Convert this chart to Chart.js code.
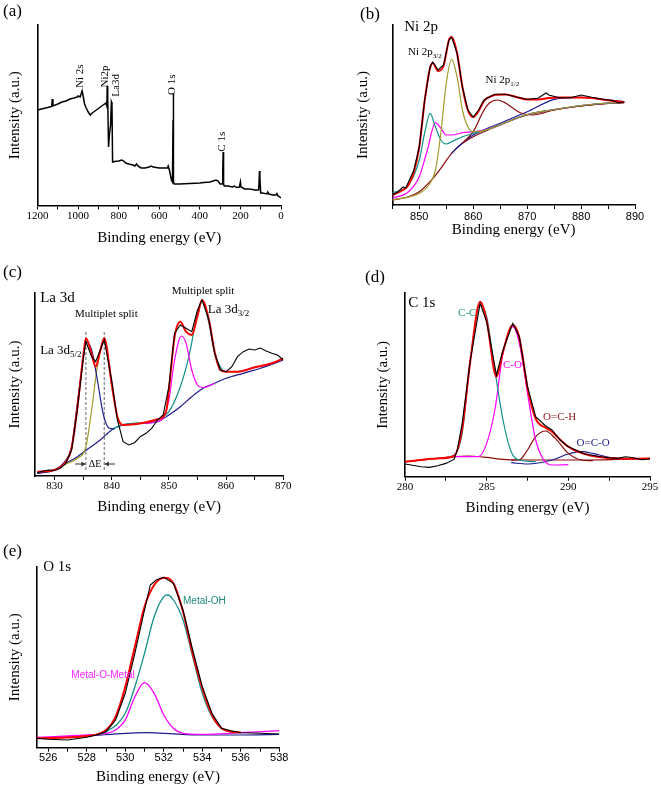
<!DOCTYPE html>
<html><head><meta charset="utf-8">
<script src="https://cdn.jsdelivr.net/npm/chart.js@4/dist/chart.umd.min.js"></script>
<style>
html,body{margin:0;padding:0;background:#fff;}
#wrap{position:relative;width:661px;height:787px;background:#fff;overflow:hidden;}
canvas{position:absolute;}
</style></head><body>
<div id="wrap">
<canvas id="ca" width="330" height="260" style="left:0;top:0"></canvas>
<canvas id="cb" width="331" height="260" style="left:330px;top:0"></canvas>
<canvas id="cc" width="330" height="260" style="left:0;top:260px"></canvas>
<canvas id="cd" width="331" height="260" style="left:330px;top:260px"></canvas>
<canvas id="ce" width="330" height="267" style="left:0;top:520px"></canvas>
</div>
<script>
// ---------- (a) survey ----------
const a_be = [1200,1180,1160,1140,1130,1127,1124,1100,1080,1060,1040,1020,1005,1000,990,985,980,975,968,960,950,940,930,910,890,870,862,858,856.5,854,850,846,840,836,833,830,820,800,785,775,765,750,740,730,720,712,705,690,670,650,640,630,600,580,560,556,550,540,535,532,531,529,525,500,450,400,380,350,320,310,300,290,287,285,283,280,260,240,230,220,205,200,197,180,160,140,130,120,110,106,104,100,90,70,65,60,40,25,20,15,5,0];
const a_int = [95.5,96.5,97.5,98.5,99,106.5,99.5,101.5,103.5,104.5,106.5,107.5,108.5,109.5,108.5,111.5,114.5,109.5,101.5,97.5,93.5,90.5,92.5,95.5,98.5,101.5,102.5,99.5,119.5,107.5,58.5,70,80,103.5,101.5,43.5,44,44.5,45.5,44.5,42.5,41.5,41,40.5,39.5,41.5,39.5,37.5,37.5,38.5,39.5,38.5,37.5,37.5,37.5,39.5,35.5,25.5,23.5,85.5,111.5,23.5,21.5,21.5,22,22.5,23,23.5,25.5,24.5,21.5,21.5,35.5,53.5,21.5,19.5,19.5,18.5,19.5,18,18.5,23.5,18.5,16.5,16.5,16,15.5,15.5,15.5,34.5,27.5,12.5,12.5,11.5,13.5,11.5,10.5,10.5,12,9.5,8.5,7.5];
const a_labels = ["Ni 2s","Ni2p","La3d","O 1s","C 1s"];
const a_lab_be = [990.5,867,814,535,288];
const a_lab_int = [117.5,118,108.8,110.5,53.8];

// ---------- (b) Ni 2p ----------
const b_be = [845,846,847,847.5,848,849,850,851,852,852.5,853.5,854.5,855.5,856,857,858,859,860,861,862,863,864,866,868,870,872,873.5,874,876,878,880,882,884,886,887,888];
const b_data = [10,13,18,17,23,35,58,105,138,143,135,140,165,167.7,152,118,95,88,95,105,108,110.7,110.7,108,105.7,106.7,112,110,107.3,107.3,110,107.7,105.7,104.3,102,103.3];
const b_fit_be = [845,847,848,849,850,851,852,852.5,853.5,854.5,855.5,856,857,858,859,860,861,862,863,864,866,868,870,872,874,876,878,880,882,884,886,888];
const b_fit = [10,15,20,33,58,104,137,142,134,139,165,168,152,118,95,88,94,104,108,110,110.5,108,105.5,105.5,107,107.5,107.5,107.5,107,105.5,104,103];
const b_bg_be = [845,848,850,852,854,856,858,860,862,865,870,875,880,885,888];
const b_bg = [5,8.3,13.3,23.3,36.7,51.7,61.7,68.3,73.3,80,90,95,99,101.7,102.3];
const b_p1_be = [845,848,850,851,852,853,854,855,856,858,860,862,865,870,875,880,885,888];
const b_p1 = [12,20,45,72,91.7,78,65,61,63.3,68.3,71.7,74.5,80.5,90.5,95.5,99.5,102,102.5];
const b_p2_be = [845,848,850,851.5,853,854,855,856,858,860,862,865,870,875,880,885,888];
const b_p2 = [6.7,13.3,28.3,55,82.3,76.7,70,70,72.3,73.3,75,80.5,90.5,95.5,99.5,102,102.5];
const b_p3_be = [845,850,852,853,854,855,856,857,858,859,860,862,865,870,875,880,885,888];
const b_p3 = [5,11.7,21.7,35,71.7,121.7,145.7,128.3,95,78.3,73.3,74.3,80.5,90.5,95.5,99.5,102,102.5];
const b_s1_be = [858,860,862,863,864.5,866,867,869,871,875,880,885,888];
const b_s1 = [61.7,73.3,95,102,105,102,98.3,91.7,90,95,99,101.7,102.3];
const b_s2_be = [856,858,860,865,870,875,878,880,884,888];
const b_s2 = [52,62,70,81.7,93.3,105.7,107.3,107.7,105.7,103.3];

// ---------- (c) La 3d ----------
const c_be = [827,828,829,830,831,832,833,834,835,835.5,836.5,837.2,838,838.7,840,841,842,843,844,845,846,847,848,849,850,851,852,853,854,855,855.8,857,858,859,860,861,862,863,864,865,866,867,868,869,870];
const c_data = [3.3,5,6,5.5,7.7,12.7,26,66,116,134.3,119.3,114.3,126,136,96,56,34.3,31,33.3,39.3,42.7,47.7,56,61,89.3,142.7,151,147.7,144.3,166,176,156,122.7,106,104.3,109.3,119.3,124.3,127,126,128,125,122.7,121,116];
const c_fit_be = [827,830,832,833,834,835,835.5,836.5,837.2,838,838.7,840,841,842,844,846,848,849.5,850,851,852,853,854,855,855.8,857,858,859,860,862,865,868,870];
const c_fit = [4.3,6,14.3,28,68,118,137.7,122,109.3,125,137.7,92.7,59.3,51,51.7,53.7,56.7,64.3,86,139.3,154.3,144.3,141,160,176,156,124,106,104.3,104.3,108.7,112.7,117.7];
const c_bg_be = [827,830,832,834,836,838,840,842,845,848,850,852,854,856,858,860,863,866,870];
const c_bg = [2.7,6,12.7,19.3,27.7,36,46,51,52.7,54.3,61,69.3,79.3,87.7,92.7,97.7,102.7,107.7,116];
const c_p1_be = [827,830,832,833,834,835,835.5,836.5,837.5,838.5,839.5,840.5];
const c_p1 = [2.7,6,16,29.3,72.7,116,134.3,126,96,62.7,48,47];
const c_p2_be = [830,832,834,835.5,836.5,837.5,838.7,840,841,842,843];
const c_p2 = [6,12,17.7,29.3,66,109.3,136,89.3,59.3,51,51.5];
const c_p3_be = [846,848,849,850,851,852.2,853,854,855,856,858];
const c_p3 = [52.7,54.5,57.7,76,116,140,132.7,106,91,88.5,92.7];
const c_p4_be = [840,842,846,848,850,852,853.5,855,855.8,857,858,859,860,862,865,868,870];
const c_p4 = [46.5,51.5,53.5,56,64.3,89.3,119.3,162.7,176,152.7,122.7,109.3,104.3,104.3,108.7,112.7,117.7];
const c_split_be = [835.5,838.7];

// ---------- (d) C 1s ----------
const d_be = [280,281,281.5,282,282.5,283,283.2,283.5,284,284.6,285,285.6,286,286.6,287,287.5,288,288.6,289,289.5,290,291,292,292.5,293,293.5,294,294.5,295];
const d_data = [12.7,10,9.3,11,13.3,17.3,26.7,53.3,116.7,173.3,155,101.7,126.7,153.3,140,90,60,51,46.7,36.7,30,22.7,20,19,18.3,20,19,17,17.7];
const d_fit_be = [280,282,283,283.5,284,284.6,285,285.6,286,286.6,287,287.5,288,288.6,289,289.5,290,291,292,293,294,295];
const d_fit = [15,18.3,20.7,48,116,175,156,100,125,151.7,139,89,58,49,45,37,30,22.7,19.5,18.3,18,18.3];
const d_bg_be = [280,282,283,283.8,285,286,287,289,291,293,295];
const d_bg = [15,18.3,20,20.7,19.3,17.3,16.7,16.7,16.7,17.3,18.3];
const d_cc_be = [280,282,283,283.5,284,284.6,285,285.5,286,286.5,287,288];
const d_cc = [15,18.3,21.7,43.3,116.7,171.7,160,106.7,56.7,25,16.7,15];
const d_co_be = [283,284.5,285,285.5,286,286.6,287,287.5,288,288.5,289,290];
const d_co = [20,20,33.3,66.7,123.3,150,133.3,83.3,36.7,16.7,11.7,12];
const d_och_be = [286.5,287,287.5,288,288.6,289.2,290,290.8,291.5];
const d_och = [16.7,17,26.7,40,45.7,38.3,23.3,16.7,16];
const d_oco_be = [286.5,287.5,289,290,290.8,291.5,292.5,293.5,295];
const d_oco = [14,12.7,16.7,22.7,25,23.3,19.3,17.7,17.7];

// ---------- (e) O 1s ----------
const e_be = [525.4,526,527,528,528.5,529,529.5,530,530.5,531,531.3,531.6,532,532.5,533,533.5,534,534.5,535,535.5,536,537,538];
const e_data = [9.4,8.4,7.7,10.4,12.7,16,27.7,54.4,94.4,137.7,162.7,167.7,170.4,164.4,137.7,97.7,61,34.4,19.4,17,15,14.4,13.7];
const e_fit_be = [525.4,528,529,529.5,530,530.5,531,531.5,532,532.5,533,533.5,534,534.5,535,535.5,536];
const e_fit = [9.4,11.7,17.7,31,61,101,141,162.7,170,164.4,136,94.4,59.4,33,19.4,16,15.3];
const e_oh_be = [528,529,530,530.5,531,531.5,532,532.2,532.5,533,533.5,534,534.5,535,535.5,536];
const e_oh = [11.7,16,34.4,61,94.4,131,151,152.7,147.7,127.7,91,54.4,31,19.4,15.7,15];
const e_omo_be = [525.4,528,529,529.5,530,530.5,531,531.5,532,532.5,533,534,536,538];
const e_omo = [10.4,12.7,14.4,17.7,27.7,51,65,54.4,32.7,19.4,14.4,13.4,15,17];
const e_bg_be = [525.4,528,530,531,532,534,536,538];
const e_bg = [9.4,11.7,14.4,15,14.4,12.7,12.7,13.4];

// ---------- helpers ----------
const SERIF = "'Liberation Serif','Times New Roman',serif";
const SANS = "'Liberation Sans',Arial,sans-serif";
const RED='#ff0000', TEAL='#13908a', MAG='#ff00ff', OLIVE='#a09b2a', DRED='#8b0a0a', NAVY='#1c1c8c';
function pts(xs, ys){ return xs.map((x,i)=>({x:x, y:ys[i]})); }
function ds(xs, ys, color, w, smooth, dash){
  return {data: pts(xs,ys), borderColor: color, borderWidth: w||1.2, pointRadius:0, fill:false,
    tension:0, cubicInterpolationMode: smooth ? 'monotone' : 'default', borderDash: dash||[]};
}
function annPlugin(items){
  return {id:'ann', afterDraw(chart){
    const ctx = chart.ctx, xs = chart.scales.x, ys = chart.scales.y;
    ctx.save();
    for (const it of items){
      let px, py;
      if (it.px){ px = it.x; py = it.y; } else { px = xs.getPixelForValue(it.x); py = ys.getPixelForValue(it.y); }
      ctx.fillStyle = it.color || '#000';
      ctx.strokeStyle = it.color || '#000';
      if (it.type === 'arrow'){
        const px2 = xs.getPixelForValue(it.x2);
        ctx.lineWidth = 1;
        ctx.beginPath(); ctx.moveTo(px, py); ctx.lineTo(px2, py); ctx.stroke();
        const d = px2 > px ? 1 : -1;
        ctx.beginPath(); ctx.moveTo(px2, py); ctx.lineTo(px2 - d*4, py - 2.5); ctx.lineTo(px2 - d*4, py + 2.5); ctx.closePath(); ctx.fill();
        continue;
      }
      ctx.font = it.font;
      ctx.textBaseline = 'middle';
      ctx.textAlign = it.align || 'left';
      if (it.rot){
        ctx.save(); ctx.translate(px, py); ctx.rotate(-Math.PI/2);
        ctx.fillText(it.t, 0, 0); ctx.restore();
      } else {
        ctx.fillText(it.t, px, py);
        if (it.sub){
          const w = ctx.measureText(it.t).width;
          ctx.font = it.subFont; ctx.textAlign = 'left';
          ctx.fillText(it.sub, px + w, py + 4);
        }
      }
    }
    ctx.restore();
  }};
}
function makeChart(id, c){
  const tickFont = {family: c.tickFamily, size: 11};
  return new Chart(document.getElementById(id), {
    type: 'line',
    data: {datasets: c.datasets},
    options: {
      responsive: false, animation: false, devicePixelRatio: 1,
      layout: {padding: {left: 0, top: c.top, right: c.right, bottom: 0}},
      plugins: {legend: {display: false}, tooltip: {enabled: false}},
      scales: {
        x: {
          type: 'linear', min: c.xmin, max: c.xmax, reverse: !!c.reverse,
          ticks: {stepSize: c.step, includeBounds: false, autoSkip: false, maxRotation: 0, color: '#000', font: tickFont, padding: c.tickPad,
            callback: (v) => (Math.abs(v % c.lab) < 1e-6 || Math.abs(Math.abs(v % c.lab) - c.lab) < 1e-6) ? String(Math.round(v)) : ''},
          grid: {display: true, drawOnChartArea: false, drawTicks: true, tickLength: 4, color: '#000', tickWidth: 1},
          border: {display: true, color: '#000', width: 1.6},
          title: {display: true, text: 'Binding energy (eV)', color: '#000', font: {family: SERIF, size: 15}, padding: {top: 0, bottom: c.xTitlePad}},
          afterFit: (s) => { s.height = c.xH; }
        },
        y: {
          min: 0, max: c.ymax,
          ticks: {display: false},
          grid: {display: false},
          border: {display: true, color: '#000', width: 1.6},
          title: {display: true, text: 'Intensity (a.u.)', color: '#000', font: {family: SERIF, size: 15}, padding: {top: c.yTitlePad, bottom: 0}},
          afterFit: (s) => { s.width = c.left; }
        }
      }
    },
    plugins: [annPlugin(c.texts)]
  });
}

// ---------- (a) ----------
const aTexts = [{px:true, x:3, y:12, t:'(a)', font:'17px '+SERIF}];
a_labels.forEach((t,i)=>aTexts.push({t:t, x:a_lab_be[i], y:a_lab_int[i], rot:true, font:'11px '+SERIF}));
makeChart('ca', {
  xmin:0, xmax:1200, reverse:true, step:100, lab:200, tickFamily:SERIF, tickPad:0,
  ymax:180.5, left:37.5, top:25, right:49, xH:54.5, xTitlePad:13, yTitlePad:6,
  datasets:[ds(a_be, a_int, '#000', 1.5, false)],
  texts: aTexts
});

// ---------- (b) ----------
makeChart('cb', {
  xmin:845, xmax:890, step:5, lab:10, tickFamily:SANS, tickPad:1,
  ymax:180, left:62.3, top:25, right:26, xH:55, xTitlePad:21, yTitlePad:24,
  datasets:[
    ds(b_be, b_data, '#000', 1.1, false),
    ds(b_fit_be, b_fit, RED, 2, true),
    ds(b_p3_be, b_p3, OLIVE, 1.2, true),
    ds(b_p1_be, b_p1, TEAL, 1.2, true),
    ds(b_p2_be, b_p2, MAG, 1.2, true),
    ds(b_s1_be, b_s1, DRED, 1.2, true),
    ds(b_s2_be, b_s2, '#1a1aa0', 1.2, true),
    ds(b_bg_be, b_bg, DRED, 1.2, true)
  ],
  texts:[
    {px:true, x:30, y:15, t:'(b)', font:'17px '+SERIF},
    {x:847.2, y:178, t:'Ni 2p', font:'15px '+SERIF},
    {x:847.9, y:153, t:'Ni 2p', sub:'3/2', font:'11px '+SERIF, subFont:'7px '+SERIF},
    {x:862.3, y:125, t:'Ni 2p', sub:'1/2', font:'11px '+SERIF, subFont:'7px '+SERIF}
  ]
});

// ---------- (c) ----------
makeChart('cc', {
  xmin:826.6, xmax:870, step:5, lab:10, tickFamily:SERIF, tickPad:0,
  ymax:183, left:35, top:33, right:46.7, xH:44, xTitlePad:4, yTitlePad:6,
  datasets:[
    ds(c_be, c_data, '#000', 1.1, false),
    ds(c_fit_be, c_fit, RED, 2, true),
    ds(c_p1_be, c_p1, NAVY, 1.2, true),
    ds(c_p2_be, c_p2, OLIVE, 1.2, true),
    ds(c_p3_be, c_p3, MAG, 1.2, true),
    ds(c_p4_be, c_p4, TEAL, 1.2, true),
    ds(c_bg_be, c_bg, NAVY, 1.2, true),
    ds([c_split_be[0], c_split_be[0]], [6,146], '#666', 1, false, [3,2]),
    ds([c_split_be[1], c_split_be[1]], [6,146], '#666', 1, false, [3,2])
  ],
  texts:[
    {px:true, x:3, y:13, t:'(c)', font:'17px '+SERIF},
    {x:827.5, y:178, t:'La 3d', font:'15px '+SERIF},
    {x:833.6, y:162, t:'Multiplet split', font:'11px '+SERIF},
    {x:827.5, y:125.3, t:'La 3d', sub:'5/2', font:'13px '+SERIF, subFont:'9px '+SERIF},
    {x:850.5, y:185.3, t:'Multiplet split', font:'11px '+SERIF},
    {x:856.8, y:166, t:'La 3d', sub:'3/2', font:'13px '+SERIF, subFont:'9px '+SERIF},
    {x:837.1, y:12, t:'\u0394E', align:'center', font:'10px '+SERIF},
    {type:'arrow', x:833.6, x2:835.4, y:12, color:'#333'},
    {type:'arrow', x:840.6, x2:838.8, y:12, color:'#333'}
  ]
});

// ---------- (d) ----------
makeChart('cd', {
  xmin:280, xmax:295, step:2.5, lab:5, tickFamily:SERIF, tickPad:0,
  ymax:183.7, left:75, top:33, right:11, xH:43.3, xTitlePad:3, yTitlePad:44,
  datasets:[
    ds(d_be, d_data, '#000', 1.1, false),
    ds(d_fit_be, d_fit, RED, 2, true),
    ds(d_cc_be, d_cc, TEAL, 1.2, true),
    ds(d_co_be, d_co, MAG, 1.2, true),
    ds(d_och_be, d_och, DRED, 1.2, true),
    ds(d_oco_be, d_oco, NAVY, 1.2, true),
    ds(d_bg_be, d_bg, DRED, 1.2, true)
  ],
  texts:[
    {px:true, x:35, y:18, t:'(d)', font:'17px '+SERIF},
    {x:280.2, y:173.7, t:'C 1s', font:'15px '+SERIF},
    {x:283.25, y:163.7, t:'C-C', color:'#1a9a7a', font:'11px '+SERIF},
    {x:286.0, y:111.7, t:'C-O', color:MAG, font:'11px '+SERIF},
    {x:288.45, y:59.7, t:'O=C-H', color:'#8b1a1a', font:'11px '+SERIF},
    {x:290.5, y:33.7, t:'O=C-O', color:'#22228a', font:'11px '+SERIF}
  ]
});

// ---------- (e) ----------
makeChart('ce', {
  xmin:525.4, xmax:538, step:1, lab:2, tickFamily:SANS, tickPad:0,
  ymax:181, left:36.7, top:46.7, right:50.7, xH:39.3, xTitlePad:1, yTitlePad:6,
  datasets:[
    ds(e_be, e_data, '#000', 1.1, false),
    ds(e_fit_be, e_fit, RED, 2, true),
    ds(e_oh_be, e_oh, TEAL, 1.3, true),
    ds(e_omo_be, e_omo, MAG, 1.3, true),
    ds(e_bg_be, e_bg, NAVY, 1.2, true)
  ],
  texts:[
    {px:true, x:3, y:32, t:'(e)', font:'17px '+SERIF},
    {x:525.74, y:181, t:'O 1s', font:'15px '+SERIF},
    {x:533.0, y:146, t:'Metal-OH', color:'#1a8a7a', font:'10px '+SANS},
    {x:527.2, y:72.7, t:'Metal-O-Metal', color:'#ff22ff', font:'10px '+SANS}
  ]
});
</script>
</body></html>
